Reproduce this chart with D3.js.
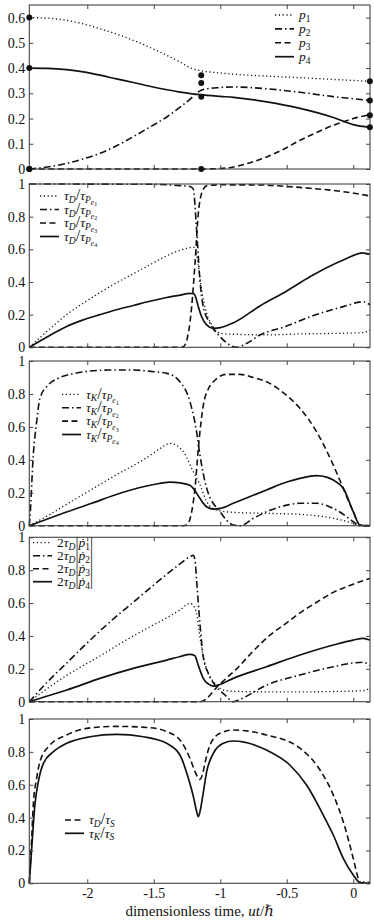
<!DOCTYPE html>
<html>
<head>
<meta charset="utf-8">
<script src="https://cdn.jsdelivr.net/npm/d3@7"></script>
<style>
body { margin: 0; background: #fff; }
svg { display: block; font-family: "Liberation Serif", "DejaVu Serif", serif; }
</style>
</head>
<body>
<svg id="chart" width="374" height="921"></svg>
<script>
let xTicks = [-2, -1.5, -1, -0.5, 0];
let xDomain = [-2.436, 0.126];

// panel 1: occupation probabilities
let probP1 = [[-2.436, 0.6], [-2.3, 0.598], [-2.156, 0.589], [-2.03, 0.575], [-1.905, 0.556], [-1.78, 0.535], [-1.654, 0.51], [-1.53, 0.482], [-1.4, 0.45], [-1.303, 0.424], [-1.22, 0.4], [-1.153, 0.39], [-1.05, 0.383], [-0.9, 0.376], [-0.65, 0.368], [-0.4, 0.362], [-0.15, 0.355], [0.125, 0.348]];
let probP2 = [[-2.436, 0], [-2.3, 0.008], [-2.156, 0.022], [-2.03, 0.04], [-1.905, 0.062], [-1.78, 0.092], [-1.654, 0.128], [-1.53, 0.166], [-1.4, 0.207], [-1.303, 0.245], [-1.22, 0.28], [-1.18, 0.3], [-1.143, 0.312], [-1.1, 0.318], [-1.028, 0.322], [-0.9, 0.325], [-0.65, 0.318], [-0.4, 0.304], [-0.15, 0.287], [0.125, 0.272]];
let probP3 = [[-2.436, 0], [-1.143, 0], [-1.0, 0.002], [-0.9, 0.008], [-0.775, 0.025], [-0.65, 0.048], [-0.525, 0.078], [-0.4, 0.114], [-0.275, 0.145], [-0.15, 0.173], [0, 0.2], [0.125, 0.215]];
let probP4 = [[-2.436, 0.4], [-2.3, 0.399], [-2.156, 0.394], [-2.03, 0.385], [-1.905, 0.372], [-1.78, 0.357], [-1.654, 0.343], [-1.53, 0.328], [-1.4, 0.314], [-1.303, 0.305], [-1.153, 0.295], [-1.0, 0.288], [-0.9, 0.284], [-0.65, 0.266], [-0.4, 0.24], [-0.15, 0.204], [0, 0.176], [0.125, 0.165]];
let probMarkX = [-2.436, -2.436, -2.436, -2.436, -1.143, -1.143, -1.143, -1.143, 0.125, 0.125, 0.125, 0.125];
let probMarkY = [0.6, 0.4, 0, 0, 0.372, 0.341, 0.286, 0, 0.348, 0.271, 0.213, 0.165];

// panel 2: tau_D / tau_Pe
let tdP1 = [[-2.436, 0], [-2.3, 0.1], [-2.155, 0.2], [-2.03, 0.27], [-1.905, 0.335], [-1.78, 0.395], [-1.654, 0.45], [-1.53, 0.505], [-1.403, 0.56], [-1.3, 0.595], [-1.228, 0.61], [-1.19, 0.612], [-1.165, 0.5], [-1.14, 0.35], [-1.102, 0.208], [-1.053, 0.126], [-1.002, 0.086], [-0.9, 0.08], [-0.65, 0.076], [-0.4, 0.082], [-0.15, 0.085], [0.075, 0.09], [0.125, 0.106]];
let tdP2 = [[-2.436, 1], [-1.5, 0.998], [-1.3, 0.99], [-1.228, 0.985], [-1.203, 0.97], [-1.178, 0.718], [-1.153, 0.412], [-1.128, 0.249], [-1.077, 0.147], [-1.002, 0.065], [-0.927, 0.014], [-0.877, 0], [-0.8, 0.025], [-0.702, 0.075], [-0.5, 0.13], [-0.326, 0.187], [-0.075, 0.249], [0.075, 0.279], [0.125, 0.26]];
let tdP3 = [[-2.436, 0], [-1.3, 0], [-1.278, 0.003], [-1.24, 0.086], [-1.215, 0.249], [-1.19, 0.514], [-1.165, 0.82], [-1.14, 0.943], [-1.1, 0.99], [-1.0, 0.995], [-0.702, 0.994], [-0.5, 0.985], [-0.326, 0.974], [-0.075, 0.953], [0.125, 0.927]];
let tdP4 = [[-2.436, 0], [-2.3, 0.065], [-2.155, 0.128], [-2.03, 0.168], [-1.905, 0.2], [-1.78, 0.23], [-1.654, 0.256], [-1.53, 0.282], [-1.403, 0.305], [-1.3, 0.32], [-1.228, 0.33], [-1.2, 0.328], [-1.19, 0.318], [-1.165, 0.249], [-1.14, 0.187], [-1.102, 0.137], [-1.053, 0.116], [-1.0, 0.12], [-0.9, 0.15], [-0.702, 0.253], [-0.5, 0.345], [-0.326, 0.432], [-0.075, 0.535], [0.075, 0.578], [0.09, 0.575], [0.125, 0.57]];

// panel 3: tau_K / tau_Pe
let tkP1 = [[-2.436, 0], [-2.3, 0.06], [-2.155, 0.13], [-2.03, 0.19], [-1.905, 0.25], [-1.78, 0.31], [-1.654, 0.365], [-1.53, 0.425], [-1.45, 0.47], [-1.378, 0.5], [-1.278, 0.449], [-1.203, 0.328], [-1.153, 0.25], [-1.102, 0.146], [-1.027, 0.095], [-0.902, 0.081], [-0.652, 0.075], [-0.401, 0.069], [-0.15, 0.045], [0, 0.014], [0.05, 0], [0.125, 0]];
let tkP2 = [[-2.436, 0], [-2.431, 0.05], [-2.406, 0.43], [-2.381, 0.63], [-2.356, 0.773], [-2.293, 0.855], [-2.218, 0.895], [-2.093, 0.925], [-1.842, 0.945], [-1.654, 0.945], [-1.5, 0.935], [-1.403, 0.925], [-1.303, 0.874], [-1.228, 0.753], [-1.178, 0.57], [-1.153, 0.43], [-1.102, 0.227], [-1.002, 0.085], [-0.902, 0.004], [-0.85, 0], [-0.75, 0.045], [-0.652, 0.085], [-0.5, 0.125], [-0.401, 0.136], [-0.276, 0.136], [-0.15, 0.105], [-0.05, 0.055], [0, 0.024], [0.05, 0], [0.125, 0]];
let tkP3 = [[-2.436, 0], [-1.28, 0], [-1.253, 0.004], [-1.215, 0.085], [-1.19, 0.227], [-1.165, 0.47], [-1.127, 0.733], [-1.09, 0.83], [-1.052, 0.874], [-0.952, 0.919], [-0.852, 0.919], [-0.752, 0.9], [-0.652, 0.874], [-0.5, 0.79], [-0.401, 0.713], [-0.276, 0.571], [-0.15, 0.368], [-0.075, 0.227], [0, 0.085], [0.05, 0.004], [0.125, 0]];
let tkP4 = [[-2.436, 0], [-2.218, 0.065], [-1.967, 0.136], [-1.742, 0.2], [-1.5, 0.25], [-1.38, 0.265], [-1.3, 0.26], [-1.228, 0.245], [-1.203, 0.227], [-1.153, 0.166], [-1.103, 0.115], [-1.053, 0.101], [-1.0, 0.105], [-0.902, 0.136], [-0.652, 0.217], [-0.5, 0.265], [-0.401, 0.287], [-0.276, 0.304], [-0.2, 0.295], [-0.15, 0.277], [-0.075, 0.227], [0, 0.085], [0.05, 0.004], [0.125, 0]];

// panel 4: 2 tau_D |dp/dt|
let rateP1 = [[-2.436, 0], [-2.3, 0.08], [-2.155, 0.16], [-2.03, 0.22], [-1.905, 0.278], [-1.78, 0.34], [-1.654, 0.4], [-1.53, 0.455], [-1.403, 0.51], [-1.3, 0.56], [-1.228, 0.598], [-1.19, 0.568], [-1.178, 0.538], [-1.153, 0.395], [-1.128, 0.274], [-1.09, 0.173], [-1.04, 0.112], [-0.977, 0.071], [-0.902, 0.063], [-0.652, 0.06], [-0.401, 0.06], [-0.15, 0.062], [0.075, 0.067], [0.125, 0.081]];
let rateP2 = [[-2.436, 0], [-2.3, 0.12], [-2.155, 0.235], [-2.03, 0.335], [-1.905, 0.43], [-1.78, 0.52], [-1.654, 0.605], [-1.53, 0.69], [-1.403, 0.775], [-1.3, 0.84], [-1.228, 0.882], [-1.203, 0.89], [-1.19, 0.862], [-1.178, 0.74], [-1.153, 0.477], [-1.128, 0.274], [-1.09, 0.173], [-1.04, 0.101], [-0.965, 0.041], [-0.902, 0], [-0.85, 0.015], [-0.652, 0.101], [-0.401, 0.162], [-0.15, 0.213], [0.075, 0.24], [0.125, 0.22]];
let rateP3 = [[-2.436, 0], [-1.15, 0], [-1.0, 0.11], [-0.877, 0.2], [-0.75, 0.31], [-0.626, 0.405], [-0.5, 0.48], [-0.401, 0.54], [-0.275, 0.605], [-0.15, 0.665], [0, 0.715], [0.125, 0.75]];
let rateP4 = [[-2.436, 0], [-2.3, 0.035], [-2.155, 0.071], [-1.905, 0.142], [-1.654, 0.203], [-1.403, 0.253], [-1.3, 0.275], [-1.228, 0.288], [-1.19, 0.28], [-1.178, 0.254], [-1.153, 0.193], [-1.128, 0.142], [-1.09, 0.108], [-1.053, 0.095], [-1.002, 0.105], [-0.902, 0.142], [-0.652, 0.213], [-0.401, 0.284], [-0.15, 0.345], [0, 0.375], [0.075, 0.385], [0.125, 0.375]];

// panel 5: tau / tau_S
let ratioD = [[-2.436, 0], [-2.418, 0.274], [-2.406, 0.477], [-2.381, 0.639], [-2.356, 0.74], [-2.28, 0.842], [-2.155, 0.903], [-2.005, 0.943], [-1.78, 0.955], [-1.528, 0.947], [-1.403, 0.923], [-1.303, 0.872], [-1.228, 0.761], [-1.19, 0.68], [-1.165, 0.64], [-1.152, 0.632], [-1.135, 0.66], [-1.11, 0.75], [-1.077, 0.842], [-1.002, 0.913], [-0.902, 0.933], [-0.652, 0.903], [-0.401, 0.822], [-0.276, 0.72], [-0.15, 0.538], [-0.075, 0.375], [0, 0.152], [0.038, 0.03], [0.062, 0], [0.09, 0.012], [0.125, 0]];
let ratioK = [[-2.436, 0], [-2.418, 0.213], [-2.394, 0.477], [-2.368, 0.619], [-2.33, 0.73], [-2.255, 0.801], [-2.155, 0.852], [-1.98, 0.892], [-1.78, 0.907], [-1.578, 0.892], [-1.403, 0.852], [-1.303, 0.781], [-1.24, 0.639], [-1.2, 0.52], [-1.18, 0.445], [-1.165, 0.405], [-1.15, 0.445], [-1.13, 0.54], [-1.102, 0.68], [-1.052, 0.791], [-0.977, 0.852], [-0.902, 0.866], [-0.652, 0.811], [-0.477, 0.72], [-0.351, 0.598], [-0.226, 0.416], [-0.15, 0.294], [-0.075, 0.152], [0, 0.051], [0.05, 0.005], [0.125, 0]];

let styles = {
    dotted: { dash: "1.2,2.6", width: 1.3 },
    dashdot: { dash: "7,3,1.5,3", width: 1.6 },
    dashed: { dash: "6,3.5", width: 1.6 },
    solid: { dash: null, width: 1.7 },
};

function sub(i, lv) {
    return [String(i), lv, false];
}
function tauLabel(top, i) {
    return [["τ", 0, true], [top, 1, true], ["/", 0, false, 16], ["τ", 0, true], ["P", 1, true], ["e", 2, true], sub(i, 3)];
}
function rateLabel(i) {
    return [["2", 0, false], ["τ", 0, true], ["D", 1, true], ["|", 0, false, 15], ["ṗ", 0, true], sub(i, 1), ["|", 0, false, 15]];
}

let panels = [
    {
        top: 5, bottom: 169, yMax: 0.65, yTicks: [0, 0.1, 0.2, 0.3, 0.4, 0.5, 0.6],
        series: [[probP1, "dotted"], [probP2, "dashdot"], [probP3, "dashed"], [probP4, "solid"]],
        legend: { x: 275, y: 15, step: 13.9, labels: [1, 2, 3, 4].map(i => [["p", 0, true], sub(i, 1)]) },
    },
    {
        top: 184, bottom: 347.3, yMax: 1, yTicks: [0, 0.2, 0.4, 0.6, 0.8, 1],
        series: [[tdP1, "dotted"], [tdP2, "dashdot"], [tdP3, "dashed"], [tdP4, "solid"]],
        legend: { x: 40, y: 196, step: 13.5, labels: [1, 2, 3, 4].map(i => tauLabel("D", i)) },
    },
    {
        top: 361, bottom: 525.7, yMax: 1, yTicks: [0, 0.2, 0.4, 0.6, 0.8, 1],
        series: [[tkP1, "dotted"], [tkP2, "dashdot"], [tkP3, "dashed"], [tkP4, "solid"]],
        legend: { x: 62, y: 394.3, step: 13.4, labels: [1, 2, 3, 4].map(i => tauLabel("K", i)) },
    },
    {
        top: 537.3, bottom: 701.7, yMax: 1, yTicks: [0, 0.2, 0.4, 0.6, 0.8, 1],
        series: [[rateP1, "dotted"], [rateP2, "dashdot"], [rateP3, "dashed"], [rateP4, "solid"]],
        legend: { x: 33, y: 542.7, step: 13, labels: [1, 2, 3, 4].map(i => rateLabel(i)) },
    },
    {
        top: 719, bottom: 883.3, yMax: 1, yTicks: [0, 0.2, 0.4, 0.6, 0.8, 1],
        series: [[ratioD, "dashed"], [ratioK, "solid"]],
        legend: {
            x: 65, y: 820, step: 13.3, styles: ["dashed", "solid"],
            labels: [
                [["τ", 0, true], ["D", 1, true], ["/", 0, false, 16], ["τ", 0, true], ["S", 1, true]],
                [["τ", 0, true], ["K", 1, true], ["/", 0, false, 16], ["τ", 0, true], ["S", 1, true]],
            ],
        },
    },
];

let svg = d3.select("#chart");
let left = 29.3, right = 370;
let x = d3.scaleLinear().domain(xDomain).range([left, right]);
let serif = "'Liberation Serif', 'DejaVu Serif', serif";

let sizes = [13.5, 9.5, 7.5, 6];
let shifts = [0, 2.8, 4.8, 6.2];
function addMath(g, px, py, parts) {
    let text = g.append("text").attr("x", px).attr("y", py + 4.2).attr("fill", "#111").attr("font-family", serif);
    let shift = 0;
    for (let part of parts) {
        let [t, lv, italic, fs] = part;
        text.append("tspan")
            .attr("dy", shifts[lv] - shift)
            .attr("font-size", fs || sizes[lv])
            .attr("font-style", italic ? "italic" : "normal")
            .text(t);
        shift = shifts[lv];
    }
}

panels.forEach((panel, index) => {
    let y = d3.scaleLinear().domain([0, panel.yMax]).range([panel.bottom, panel.top]);
    let g = svg.append("g");
    let last = index === panels.length - 1;

    let line = d3.line()
        .x(d => x(d[0]))
        .y(d => y(d[1]))
        .curve(d3.curveMonotoneX);

    for (let [data, style] of panel.series) {
        g.append("path")
            .datum(data)
            .attr("d", line)
            .attr("fill", "none")
            .attr("stroke", "#111")
            .attr("stroke-width", styles[style].width)
            .attr("stroke-dasharray", styles[style].dash);
    }

    let axisStyle = sel => {
        sel.attr("font-family", serif);
        sel.select(".domain").remove();
        sel.selectAll(".tick line").attr("stroke", "#444");
        sel.selectAll("text").attr("font-size", 14).attr("fill", "#111");
    };
    g.append("g").attr("transform", `translate(${left},0)`)
        .call(d3.axisLeft(y).tickValues(panel.yTicks).tickSize(-4).tickPadding(4).tickFormat(d3.format("~g")))
        .call(axisStyle);
    g.append("g").attr("transform", `translate(${right},0)`)
        .call(d3.axisRight(y).tickValues(panel.yTicks).tickSize(-4).tickFormat(""))
        .call(axisStyle);
    g.append("g").attr("transform", `translate(0,${panel.top})`)
        .call(d3.axisTop(x).tickValues(xTicks).tickSize(-4).tickFormat(""))
        .call(axisStyle);
    g.append("g").attr("transform", `translate(0,${panel.bottom})`)
        .call(d3.axisBottom(x).tickValues(xTicks).tickSize(-4).tickPadding(5).tickFormat(last ? d => String(d) : ""))
        .call(axisStyle);

    g.append("rect")
        .attr("x", left).attr("y", panel.top)
        .attr("width", right - left).attr("height", panel.bottom - panel.top)
        .attr("fill", "none").attr("stroke", "#444").attr("stroke-width", 1.1);

    let legend = panel.legend;
    let legendStyles = legend.styles || ["dotted", "dashdot", "dashed", "solid"];
    legend.labels.forEach((label, i) => {
        let ly = legend.y + i * legend.step;
        let style = styles[legendStyles[i]];
        g.append("line")
            .attr("x1", legend.x).attr("x2", legend.x + 19)
            .attr("y1", ly).attr("y2", ly)
            .attr("stroke", "#111")
            .attr("stroke-width", style.width)
            .attr("stroke-dasharray", style.dash);
        addMath(g, legend.x + 24, ly, label);
    });

    if (index === 0) {
        g.selectAll("circle")
            .data(probMarkX.map((v, i) => [v, probMarkY[i]]))
            .enter()
            .append("circle")
            .attr("cx", d => x(d[0]))
            .attr("cy", d => y(d[1]))
            .attr("r", 3)
            .attr("fill", "#111");
    }
});

let xLabel = svg.append("text")
    .attr("x", (left + right) / 2)
    .attr("y", 916)
    .attr("text-anchor", "middle")
    .attr("font-family", serif)
    .attr("font-size", 15)
    .attr("fill", "#111");
xLabel.append("tspan").text("dimensionless time, ");
xLabel.append("tspan").attr("font-style", "italic").text("ut");
xLabel.append("tspan").text("/");
xLabel.append("tspan").attr("font-style", "italic").text("ℏ");
</script>
</body>
</html>
